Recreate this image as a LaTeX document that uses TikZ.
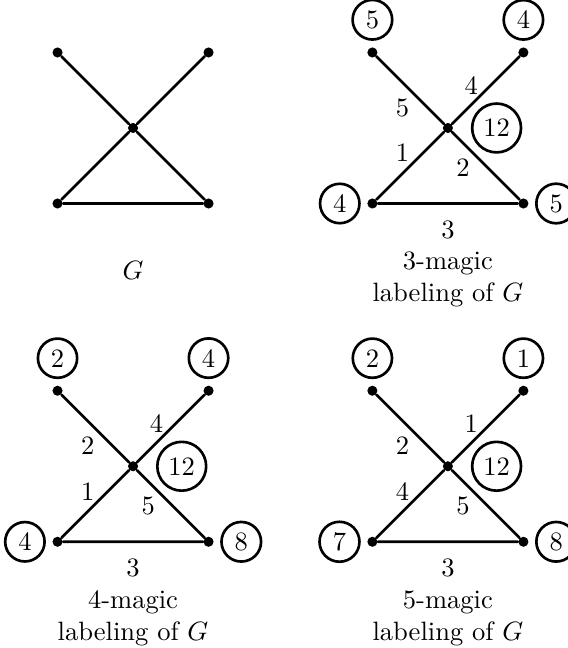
\documentclass[tikz,border=0pt]{standalone}
\usepackage{amsmath}
\usetikzlibrary{positioning}
\tikzset{
    every path/.style={line cap=round, line join=round},
    vert/.style={circle, fill, inner sep=0pt, minimum size=3.8pt},
    vlab/.style={circle, draw, line width=1pt, inner sep=2.3pt},
    elab/.style={inner sep=0pt},
    edge/.style={line width=1pt}
}

\begin{document}
\begin{tikzpicture}
    \useasboundingbox (-1.762,-6.887) rectangle (5.748,1.695);
    % the same graph four times
    \foreach \n/\x/\y in {g/0/0, h/4.17/0, i/0/-4.48, j/4.17/-4.48} {
        \begin{scope}[shift={(\x,\y)}]
            \node [vert] (\n c) at (0,0) {};
            \node [vert] (\n tl) at (-1,1) {};
            \node [vert] (\n tr) at (1,1) {};
            \node [vert] (\n bl) at (-1,-1) {};
            \node [vert] (\n br) at (1,-1) {};
            \draw [edge] (\n tl) -- (\n c) -- (\n br) -- (\n bl) -- (\n c) -- (\n tr);
        \end{scope}
    }
    \node (gname) at (0,-1.88) {$G$};
    % labels of the three magic labelings
    \foreach \n/\x/\y/\k/\vtl/\vtr/\vbl/\vbr/\etl/\etr/\ebl/\ebr/\eb in {
        h/4.17/0/3/5/4/4/5/5/4/1/2/3,
        i/0/-4.48/4/2/4/4/8/2/4/1/5/3,
        j/4.17/-4.48/5/2/1/7/8/2/1/4/5/3} {
        \node [vlab, above=0.8mm of \n tl] (\n ltl) {\vtl};
        \node [vlab, above=0.8mm of \n tr] (\n ltr) {\vtr};
        \node [vlab, left=0.8mm of \n bl] (\n lbl) {\vbl};
        \node [vlab, right=0.8mm of \n br] (\n lbr) {\vbr};
        \node [vlab, right=2.3mm of \n c] (\n lc) {12};
        \begin{scope}[shift={(\x,\y)}]
            \node [elab] (\n etl) at (-0.6,0.27) {\etl};
            \node [elab] (\n etr) at (0.31,0.56) {\etr};
            \node [elab] (\n ebl) at (-0.6,-0.33) {\ebl};
            \node [elab] (\n ebr) at (0.2,-0.53) {\ebr};
            \node [elab] (\n eb) at (0,-1.35) {\eb};
            \node [align=center] (\n name) at (0,-2.01) {\k-magic\\labeling of $G$};
        \end{scope}
    }
\end{tikzpicture}
\end{document}
